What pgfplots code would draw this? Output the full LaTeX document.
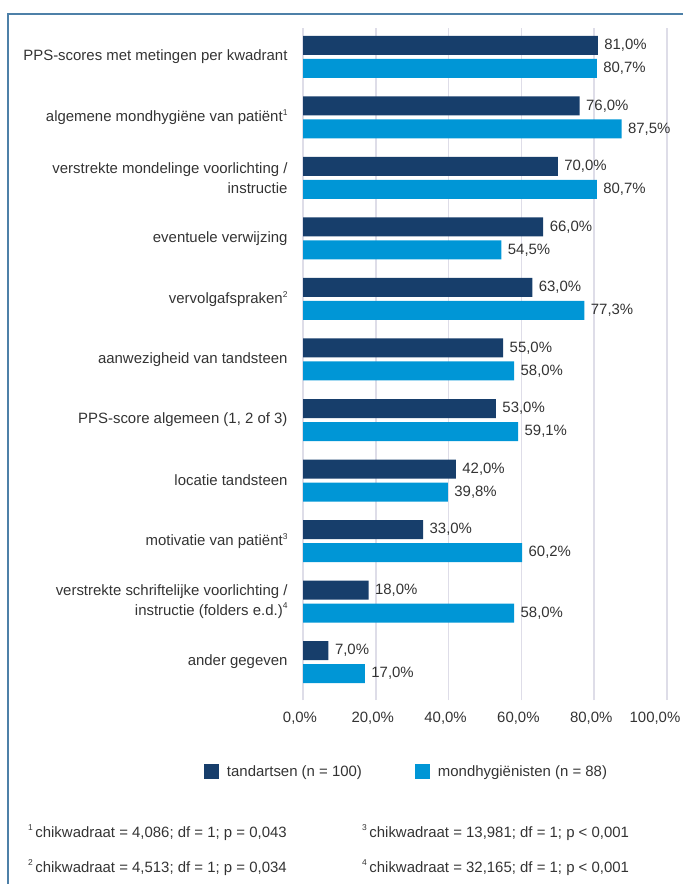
\documentclass[border=0pt]{standalone}
\usepackage{fontspec}
\setmainfont{Liberation Sans}
\usepackage{pgfplots}
\pgfplotsset{compat=1.18}
\definecolor{navy}{HTML}{173E6B}
\definecolor{sky}{HTML}{0096D6}
\definecolor{txt}{HTML}{333333}
\definecolor{gridc}{HTML}{DEDDE8}
\definecolor{framec}{HTML}{4D80A8}
\newcommand\fnm[1]{\raisebox{0.42em}{\fontsize{8.5}{8.5}\selectfont #1}}
\newcommand\pct[1]{\pgfmathprintnumber[fixed,fixed zerofill,precision=1,use comma]{#1}\%}
\newcommand\ft{\fontsize{15}{19.5}\selectfont}

\begin{document}
\begin{tikzpicture}
\path[use as bounding box] (0bp,0bp) rectangle (683bp,-884bp);
\draw[framec, line width=2bp] (8bp,-885bp) -- (8bp,-14bp) -- (684bp,-14bp);

\begin{axis}[
  at={(303bp,-700bp)}, anchor=south west,
  scale only axis, width=364bp, height=672bp,
  xbar, bar width=19bp,
  xmin=0, xmax=100, ymin=-0.628, ymax=10.479,
  /pgf/number format/assume math mode=true,
  xtick={0,20,...,80},
  extra x ticks={100},
  extra x tick style={xticklabel style={xshift=-9bp}},
  xticklabel={\pct{\tick}},
  ytick={0,...,10},
  yticklabels={
    ander gegeven,
    {verstrekte schriftelijke voorlichting /\\instructie (folders e.d.)\fnm{4}},
    motivatie van patiënt\fnm{3},
    locatie tandsteen,
    {PPS-score algemeen (1, 2 of 3)},
    aanwezigheid van tandsteen,
    vervolgafspraken\fnm{2},
    eventuele verwijzing,
    {verstrekte mondelinge voorlichting /\\instructie},
    algemene mondhygiëne van patiënt\fnm{1},
    PPS-scores met metingen per kwadrant},
  yticklabel style={font=\ft, text=txt, align=right, xshift=-12bp},
  xticklabel style={font=\ft, text=txt, yshift=-9bp, xshift=-3bp},
  major tick length=0pt,
  axis line style={draw=none},
  xmajorgrids, grid style={gridc, line width=1.5bp},
  clip=false,
  point meta=x,
  nodes near coords={\pct{\pgfplotspointmeta}},
  every node near coord/.append style={font=\ft, text=txt, anchor=west, xshift=3bp},
  legend columns=2,
  legend style={at={(axis description cs:-0.272,-0.107)}, anchor=west,
    draw=none, fill=none, inner sep=0pt, outer sep=0pt,
    font=\ft, text=txt,
    /tikz/every odd column/.style={column sep=6bp},
    /tikz/every even column/.style={column sep=51bp}},
]
\addplot[fill=navy, draw=none, bar shift=11.5bp,
  legend image code/.code={\fill[navy] (0bp,-7.5bp) rectangle (15bp,7.5bp);}]
  coordinates {
  (7,0) (18,1) (33,2) (42,3) (53,4) (55,5) (63,6) (66,7) (70,8) (76,9) (81,10)
};
\addlegendentry{tandartsen (n = 100)}
\addplot[fill=sky, draw=none, bar shift=-11.5bp,
  legend image code/.code={\fill[sky] (0bp,-7.5bp) rectangle (15bp,7.5bp);}]
  coordinates {
  (17.0,0) (58.0,1) (60.2,2) (39.8,3) (59.1,4) (58.0,5) (77.3,6) (54.5,7) (80.7,8) (87.5,9) (80.7,10)
};
\addlegendentry{mondhygiënisten (n = 88)}
\end{axis}

\begin{scope}[every node/.style={font=\ft, text=txt, inner sep=0pt, anchor=base west}]
\node at (28bp,-837bp) {\fnm{1}\,chikwadraat = 4,086; df = 1; p = 0,043};
\node at (28bp,-872bp) {\fnm{2}\,chikwadraat = 4,513; df = 1; p = 0,034};
\node at (362bp,-837bp) {\fnm{3}\,chikwadraat = 13,981; df = 1; p < 0,001};
\node at (362bp,-872bp) {\fnm{4}\,chikwadraat = 32,165; df = 1; p < 0,001};
\end{scope}
\end{tikzpicture}
\end{document}
